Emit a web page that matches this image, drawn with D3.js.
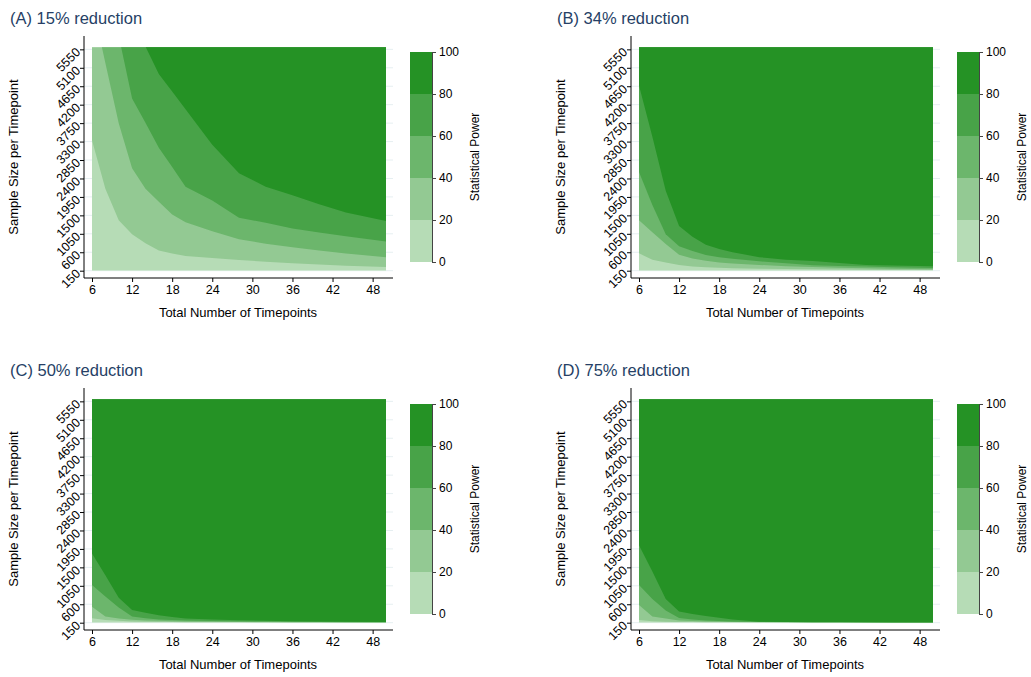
<!DOCTYPE html>
<html>
<head>
<meta charset="utf-8">
<script src="https://cdn.jsdelivr.net/npm/d3@7"></script>
<style>
  body { margin: 0; background: #fff; }
  svg { display: block; font-family: 'Liberation Sans', Arial, sans-serif; }
</style>
</head>
<body>
<div id="chart"></div>
<script>
// data
const timepoints = [6, 8, 10, 12, 14, 16, 18, 20, 24, 28, 32, 36, 40, 44, 50]
const sampleTicks = [150, 600, 1050, 1500, 1950, 2400, 2850, 3300, 3750, 4200, 4650, 5100, 5550]
const timeTicks = [6, 12, 18, 24, 30, 36, 42, 48]
const powerTicks = [0, 20, 40, 60, 80, 100]
const panelTitles = ['(A) 15% reduction', '(B) 34% reduction', '(C) 50% reduction', '(D) 75% reduction']

// sample size where power crosses 20 / 40 / 60 / 80 (one value per timepoint)
const a20 = [3330, 2150, 1380, 1040, 820, 645, 570, 510, 460, 410, 370, 330, 300, 270, 240]
const a40 = [6690, 5220, 3750, 2650, 2150, 1830, 1520, 1330, 1110, 920, 810, 720, 640, 570, 480]
const a60 = [9000, 7450, 5880, 4350, 3760, 3150, 2680, 2200, 1860, 1440, 1320, 1180, 1080, 990, 860]
const a80 = [12000, 10000, 7700, 6330, 5620, 4950, 4520, 4090, 3220, 2530, 2200, 1990, 1770, 1570, 1360]

const b20 = [573, 420, 350, 289, 255, 235, 220, 210, 200, 190, 183, 178, 173, 169, 165]
const b40 = [1383, 1090, 800, 540, 450, 390, 350, 325, 290, 260, 240, 225, 210, 200, 185]
const b60 = [2558, 1750, 1040, 745, 630, 535, 480, 440, 380, 330, 285, 265, 250, 235, 215]
const b80 = [4670, 3420, 2100, 1240, 980, 785, 680, 600, 480, 420, 385, 335, 290, 275, 258]

const c20 = [257, 215, 195, 180, 175, 170, 166, 163, 160, 158, 156, 155, 154, 153, 152]
const c40 = [539, 300, 250, 220, 205, 195, 188, 182, 175, 170, 166, 163, 160, 158, 155]
const c60 = [1067, 790, 520, 300, 260, 230, 215, 205, 192, 185, 178, 172, 168, 164, 160]
const c80 = [1838, 1310, 760, 460, 395, 333, 290, 255, 230, 210, 197, 188, 180, 173, 165]

const d20 = [216, 185, 175, 168, 165, 162, 160, 158, 156, 155, 154, 153, 152, 152, 151]
const d40 = [580, 300, 250, 205, 190, 180, 175, 170, 165, 162, 160, 158, 156, 154, 152]
const d60 = [1067, 730, 450, 265, 230, 205, 190, 180, 170, 165, 162, 160, 157, 155, 153]
const d80 = [2040, 1400, 730, 425, 365, 315, 270, 230, 175, 168, 164, 161, 158, 156, 155]

// const
const width = 1031
const height = 677
const bandColors = ['#b6dcb6', '#93c993', '#6cb66c', '#48a348', '#259225']
const titleColor = '#263f66'
const offsets = [[0, 0], [547, 0], [0, 352], [547, 352]]
const curves = [[a20, a40, a60, a80], [b20, b40, b60, b80], [c20, c40, c60, c80], [d20, d40, d60, d80]]

// svg
const svg = d3.select('#chart')
    .append('svg')
    .attr('width', width)
    .attr('height', height)

const x = d3.scaleLinear().domain([6, 50]).range([92, 386])
const y = d3.scaleLinear().domain([150, 5600]).range([270.7, 47.3])
const p = d3.scaleLinear().domain([0, 100]).range([262, 52])

panelTitles.forEach((title, i) => {
    const g = svg.append('g').attr('transform', `translate(${offsets[i][0]}, ${offsets[i][1]})`)

    // grid
    g.append('g').selectAll('line')
        .data(sampleTicks)
        .join('line')
        .attr('x1', 84).attr('x2', 393)
        .attr('y1', d => y(d)).attr('y2', d => y(d))
        .attr('stroke', '#e6eff1')

    // contour bands
    g.append('clipPath').attr('id', 'clip' + i)
        .append('rect')
        .attr('x', x(6)).attr('y', y(5600))
        .attr('width', x(50) - x(6)).attr('height', y(150) - y(5600))
    const fill = g.append('g').attr('clip-path', `url(#clip${i})`)
    fill.append('rect')
        .attr('x', x(6)).attr('y', y(5600))
        .attr('width', x(50) - x(6)).attr('height', y(150) - y(5600))
        .attr('fill', bandColors[0])
    curves[i].forEach((c, k) => {
        const area = d3.area()
            .x((d, j) => x(timepoints[j]))
            .y0(-2000)
            .y1(d => y(d))
        fill.append('path')
            .datum(c)
            .attr('d', area)
            .attr('fill', bandColors[k + 1])
    })

    // y axis
    g.append('g')
        .attr('transform', 'translate(84, 0)')
        .call(d3.axisLeft(y).tickValues(sampleTicks).tickSize(4).tickFormat(d3.format('d')))
        .call(a => a.select('.domain').remove())
        .call(a => a.selectAll('text')
            .attr('x', -6).attr('dy', '0.35em')
            .attr('transform', 'rotate(-45, -6, 0)')
            .attr('font-size', 12.5).attr('font-family', null).attr('fill', '#000'))
    g.append('line').attr('x1', 84).attr('x2', 84).attr('y1', 36).attr('y2', 278).attr('stroke', '#000')

    // x axis
    g.append('g')
        .attr('transform', 'translate(0, 278)')
        .call(d3.axisBottom(x).tickValues(timeTicks).tickSize(4))
        .call(a => a.select('.domain').remove())
        .call(a => a.selectAll('text').attr('font-size', 12.5).attr('font-family', null).attr('fill', '#000'))
    g.append('line').attr('x1', 84).attr('x2', 393).attr('y1', 278).attr('y2', 278).attr('stroke', '#000')

    // axis titles
    g.append('text')
        .attr('x', 238).attr('y', 317)
        .attr('text-anchor', 'middle').attr('font-size', 13)
        .text('Total Number of Timepoints')
    g.append('text')
        .attr('transform', 'translate(18, 157) rotate(-90)')
        .attr('text-anchor', 'middle').attr('font-size', 13)
        .text('Sample Size per Timepoint')

    // panel title
    g.append('text')
        .attr('x', 10).attr('y', 24)
        .attr('font-size', 16.5).attr('fill', titleColor)
        .text(title)

    // legend
    g.append('g').selectAll('rect')
        .data(bandColors)
        .join('rect')
        .attr('x', 410).attr('width', 22)
        .attr('y', (d, k) => p((k + 1) * 20))
        .attr('height', (d, k) => p(k * 20) - p((k + 1) * 20))
        .attr('fill', d => d)
    g.append('g')
        .attr('transform', 'translate(432, 0)')
        .call(d3.axisRight(p).tickValues(powerTicks).tickSize(4).tickSizeOuter(0))
        .call(a => a.select('.domain').attr('stroke', '#444'))
        .call(a => a.selectAll('.tick line').attr('stroke', '#444'))
        .call(a => a.selectAll('text').attr('x', 7).attr('font-size', 12).attr('font-family', null).attr('fill', '#000'))
    g.append('text')
        .attr('transform', 'translate(479, 157) rotate(-90)')
        .attr('text-anchor', 'middle').attr('font-size', 12)
        .text('Statistical Power')
})
</script>
</body>
</html>
